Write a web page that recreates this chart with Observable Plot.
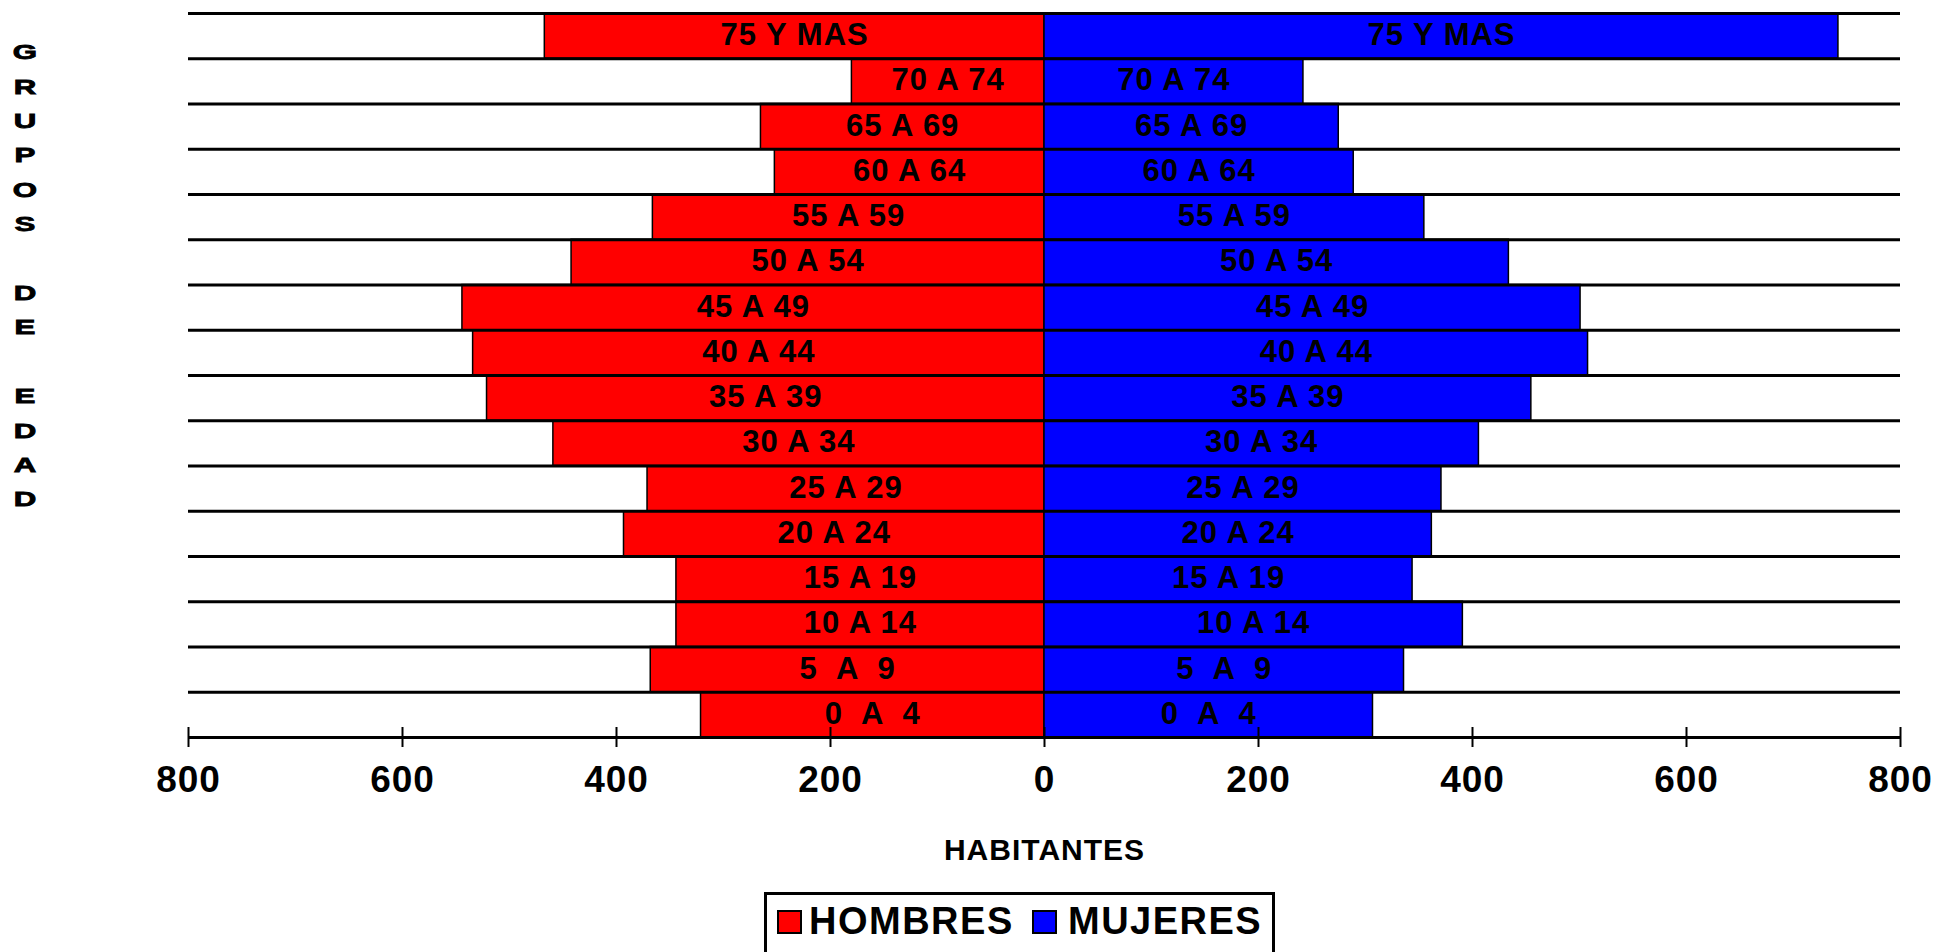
<!DOCTYPE html>
<html>
<head>
<meta charset="utf-8">
<script src="https://cdn.jsdelivr.net/npm/d3@7"></script>
<script src="https://cdn.jsdelivr.net/npm/@observablehq/plot@0.6"></script>
<style>
  body { margin: 0; background: #fff; }
  #wrap { position: relative; width: 1933px; height: 952px; overflow: hidden; font-family: "Liberation Sans", Arial, sans-serif; }
  #chart { position: absolute; left: 0; top: 0; }
  #chart text { white-space: pre; }
  #ylab { position: absolute; left: 13px; top: 35.2px; width: 24px; text-align: center; font-family: "Liberation Sans", Arial, sans-serif; font-size: 19.5px; font-weight: bold; line-height: 34.4px; white-space: pre; -webkit-text-stroke: 0.8px #000; transform: scaleX(1.6); transform-origin: 12px 0; }
  #legendBox { position: absolute; left: 764px; top: 892px; width: 505px; height: 120px; border: 3px solid #000; }
  .sw { position: absolute; top: 910px; width: 21px; height: 20px; border: 2.5px solid #000; }
  .lt { position: absolute; top: 902px; font-size: 38px; line-height: 38px; font-weight: bold; letter-spacing: 1.5px; white-space: pre; }
</style>
</head>
<body>
<div id="wrap">
  <div id="ylab"></div>
  <div id="chart"></div>
  <div id="legendBox"></div>
  <div class="sw" id="sw0" style="left:777px"></div>
  <div class="lt" id="lt0" style="left:809px"></div>
  <div class="sw" id="sw1" style="left:1032px"></div>
  <div class="lt" id="lt1" style="left:1068px"></div>
</div>
<script>
// Age groups, bottom to top
const groups = ["0  A  4", "5  A  9", "10 A 14", "15 A 19", "20 A 24", "25 A 29", "30 A 34", "35 A 39",
                "40 A 44", "45 A 49", "50 A 54", "55 A 59", "60 A 64", "65 A 69", "70 A 74", "75 Y MAS"];
const hombres = [321, 368, 344, 344, 393, 371, 459, 521, 534, 544, 442, 366, 252, 265, 180, 467];
const mujeres = [307, 336, 391, 344, 362, 371, 406, 455, 508, 501, 434, 355, 289, 275, 242, 742];
const xTicks = [-800, -600, -400, -200, 0, 200, 400, 600, 800];
const seriesNames = ["HOMBRES", "MUJERES"];
const seriesColors = ["#ff0000", "#0000ff"];
const xTitle = "HABITANTES";
const yTitle = "GRUPOS DE EDAD";

const rows = groups.map((g, i) => ({g, i, h: hombres[i], m: mujeres[i]}));

const font = "Liberation Sans, Arial, sans-serif";
const chart = Plot.plot({
  width: 1933,
  height: 880,
  marginLeft: 188,
  marginRight: 33,
  marginTop: 13,
  marginBottom: 143,
  style: {fontFamily: font, background: "transparent", overflow: "visible"},
  x: {domain: [-800, 800], axis: null},
  y: {domain: [0, groups.length], axis: null},
  marks: [
    Plot.rectX(rows, {x1: d => -d.h, x2: 0, y1: d => d.i, y2: d => d.i + 1, fill: seriesColors[0], stroke: "#000", strokeWidth: 1.5}),
    Plot.rectX(rows, {x1: 0, x2: d => d.m, y1: d => d.i, y2: d => d.i + 1, fill: seriesColors[1], stroke: "#000", strokeWidth: 1.5}),
    Plot.ruleY(d3.range(groups.length + 1), {x1: xTicks[0], x2: xTicks[xTicks.length - 1], stroke: "#000", strokeWidth: 3}),
    Plot.ruleX(xTicks, {x: d => d, y1: 0, y2: 0, insetTop: -10, insetBottom: -10, stroke: "#000", strokeWidth: 2}),
    Plot.text(rows, {x: d => -d.h / 2, y: d => d.i + 0.5, text: d => d.g, fontSize: 31, fontWeight: "bold", fill: "#000", dy: -1, fontFamily: font}),
    Plot.text(rows, {x: d => d.m / 2, y: d => d.i + 0.5, text: d => d.g, fontSize: 31, fontWeight: "bold", fill: "#000", dy: -1, fontFamily: font}),
    Plot.text(xTicks, {x: d => d, y: 0, text: d => String(Math.abs(d)), dy: 43, fontSize: 37, fontWeight: "bold", fill: "#000", fontFamily: font}),
    Plot.text([xTitle], {frameAnchor: "bottom", lineAnchor: "middle", text: d => d, dy: 113, fontSize: 30, fontWeight: "bold", fill: "#000", fontFamily: font})
  ]
});
d3.select(chart).selectAll("text").style("letter-spacing", "1px");
document.getElementById("chart").appendChild(chart);

document.getElementById("ylab").textContent = yTitle.split("").map(c => c === " " ? " " : c).join("\n");
seriesNames.forEach((n, k) => {
  document.getElementById("lt" + k).textContent = n;
  document.getElementById("sw" + k).style.background = seriesColors[k];
});
</script>
</body>
</html>
